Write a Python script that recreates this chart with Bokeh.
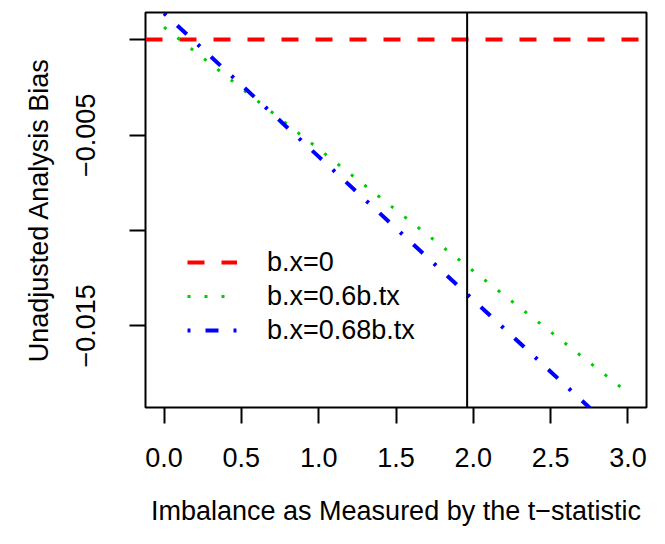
from bokeh.plotting import figure
from bokeh.models import Span, Legend, LegendItem, FixedTicker, Range1d, ColumnDataSource
from bokeh.embed import file_html
from bokeh.resources import INLINE

# ---- data ----
T_STAT = [0.0, 0.5, 1.0, 1.5, 2.0, 2.5, 3.0]
BIAS_BX0 = [0.0, 0.0, 0.0, 0.0, 0.0, 0.0, 0.0]
BIAS_BX_06 = [0.00067, -0.00253, -0.00572, -0.00892, -0.01212, -0.01531, -0.01851]
BIAS_BX_068 = [0.00140, -0.00236, -0.00612, -0.00988, -0.01364, -0.01740, -0.02116]
T_CRIT = 1.96
SERIES_LABELS = ["b.x=0", "b.x=0.6b.tx", "b.x=0.68b.tx"]
X_TICKS = [0.0, 0.5, 1.0, 1.5, 2.0, 2.5, 3.0]
X_TICK_LABELS = ["0.0", "0.5", "1.0", "1.5", "2.0", "2.5", "3.0"]
Y_TICKS = [0.0, -0.005, -0.01, -0.015]
Y_TICK_LABELS = ["", "\u22120.005", "", "\u22120.015"]
X_TITLE = "Imbalance as Measured by the t\u2212statistic"
Y_TITLE = "Unadjusted Analysis Bias"

FONT = "Liberation Sans"
FS = "27px"

p = figure(width=649, height=528, output_backend="svg", toolbar_location=None,
           x_range=Range1d(-0.12, 3.12), y_range=Range1d(-0.01928, 0.00144),
           min_border_left=145, min_border_right=3, min_border_top=12, min_border_bottom=118)
p.grid.visible = False
p.background_fill_color = "white"
p.border_fill_color = "white"
p.outline_line_color = "black"
p.outline_line_width = 2
p.outline_line_alpha = 1.0

for ax in (p.xaxis[0], p.yaxis[0]):
    ax.axis_line_color = None
    ax.major_tick_in = 0
    ax.major_tick_out = 16
    ax.major_tick_line_width = 2
    ax.major_tick_line_color = "black"
    ax.minor_tick_line_color = None
    ax.major_label_text_font = FONT
    ax.major_label_text_font_size = FS
    ax.major_label_text_color = "black"
    ax.axis_label_text_font = FONT
    ax.axis_label_text_font_size = FS
    ax.axis_label_text_font_style = "normal"
    ax.axis_label_text_color = "black"

p.xaxis.ticker = FixedTicker(ticks=X_TICKS)
p.xaxis.major_label_overrides = dict(zip(X_TICKS, X_TICK_LABELS))
p.xaxis.major_label_standoff = 24
p.xaxis.axis_label = X_TITLE
p.xaxis.axis_label_standoff = 26

p.yaxis.ticker = FixedTicker(ticks=Y_TICKS)
p.yaxis.major_label_overrides = dict(zip(Y_TICKS, Y_TICK_LABELS))
p.yaxis.major_label_orientation = "vertical"
p.yaxis.major_label_standoff = 34
p.yaxis.axis_label = Y_TITLE
p.yaxis.axis_label_standoff = 20

RED, GREEN, BLUE = "#FF0000", "#00CD00", "#0000FF"
RED_DASH, GREEN_DASH, BLUE_DASH = "17 17", "3 14", "3 15 13 15"

# b.x = 0 : horizontal line across the whole panel
r_r = p.hspan(y=[BIAS_BX0[0]], line_color=RED, line_width=4, line_dash=RED_DASH)

src = ColumnDataSource(dict(t=T_STAT, g=BIAS_BX_06, b=BIAS_BX_068))
g_r = p.line("t", "g", source=src, line_color=GREEN, line_width=3, line_dash=GREEN_DASH)
b_r = p.line("t", "b", source=src, line_color=BLUE, line_width=4, line_dash=BLUE_DASH)

p.add_layout(Span(location=T_CRIT, dimension="height", line_color="black", line_width=2))

legend = Legend(items=[LegendItem(label=SERIES_LABELS[0], renderers=[r_r]),
                       LegendItem(label=SERIES_LABELS[1], renderers=[g_r]),
                       LegendItem(label=SERIES_LABELS[2], renderers=[b_r])],
                location=(42, 60), padding=0, margin=0, spacing=0,
                label_height=34, glyph_height=34, glyph_width=50, label_standoff=30,
                label_text_font=FONT, label_text_font_size=FS, label_text_color="black",
                border_line_color=None, background_fill_alpha=0)
p.add_layout(legend, "center")

open("out.html", "w").write(file_html(p, INLINE))
